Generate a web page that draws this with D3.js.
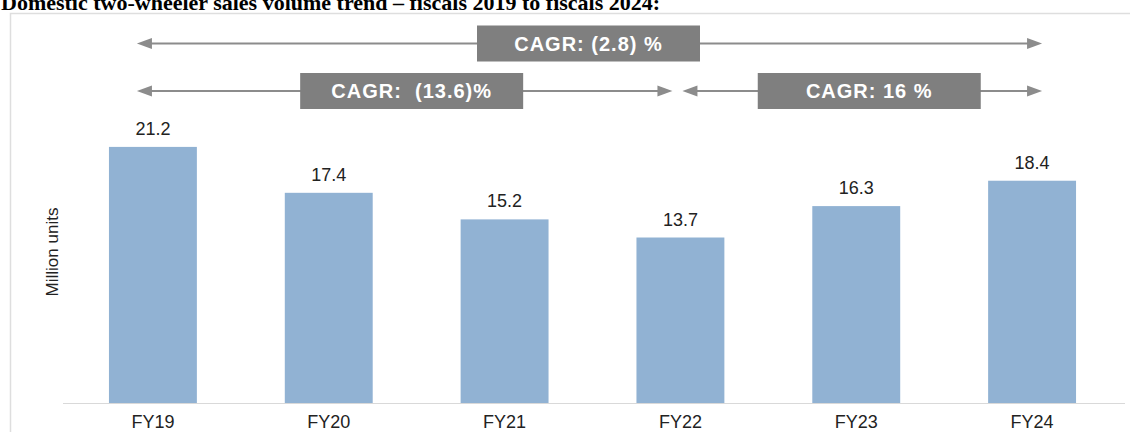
<!DOCTYPE html>
<html>
<head>
<meta charset="utf-8">
<script src="https://cdn.jsdelivr.net/npm/d3@7"></script>
<style>
  body { margin: 0; background: #fff; }
  svg { display: block; }
</style>
</head>
<body>
<div class="box"></div>
<script>
let years = ['FY19', 'FY20', 'FY21', 'FY22', 'FY23', 'FY24']
let sales = [21.2, 17.4, 15.2, 13.7, 16.3, 18.4]

let cagrText = ['CAGR: (2.8) %', 'CAGR:  (13.6)%', 'CAGR: 16 %']
let cagrFrom = ['FY19', 'FY19', 'FY22']
let cagrTo = ['FY24', 'FY22', 'FY24']
let cagrRow = [0, 1, 1]

let title = 'Domestic two-wheeler sales volume trend \u2013 fiscals 2019 to fiscals 2024:'
let yTitle = 'Million units'

let W = 1130
let H = 432
let base = 403
let barColor = '#91b2d3'
let grey = '#8c8c8c'

let svg = d3.select('.box')
  .append('svg')
  .attr('width', W)
  .attr('height', H)

// frame around the chart
svg.append('path')
  .attr('d', `M10.5,${H} V13.5 H${W}`)
  .attr('fill', 'none')
  .attr('stroke', '#dedede')
  .attr('stroke-width', 1.5)

// title is clipped by the top edge in the source image
svg.append('text')
  .attr('x', 1)
  .attr('y', 10)
  .style('font-family', '"Liberation Serif", "Times New Roman", serif')
  .style('font-weight', 'bold')
  .style('font-size', '22px')
  .style('fill', '#000')
  .text(title)

let x = d3.scaleBand()
  .domain(years)
  .range([65, 1120])
  .paddingInner(0.5)
  .paddingOuter(0.25)

let y = d3.scaleLinear()
  .domain([0, 25])
  .range([base, 101])

let xc = (d) => x(d) + x.bandwidth() / 2

// baseline
svg.append('line')
  .attr('x1', 63)
  .attr('x2', 1125)
  .attr('y1', base + 0.5)
  .attr('y2', base + 0.5)
  .attr('stroke', '#d9d9d9')
  .attr('stroke-width', 1)

svg.selectAll('.bar')
  .data(sales)
  .enter()
  .append('rect')
  .attr('class', 'bar')
  .attr('x', (d, i) => x(years[i]))
  .attr('y', (d) => y(d))
  .attr('width', x.bandwidth())
  .attr('height', (d) => base - y(d))
  .attr('fill', barColor)

svg.selectAll('.val')
  .data(sales)
  .enter()
  .append('text')
  .attr('class', 'val')
  .attr('x', (d, i) => xc(years[i]))
  .attr('y', (d) => y(d) - 12)
  .attr('text-anchor', 'middle')
  .style('font-family', 'Arial, "Liberation Sans", sans-serif')
  .style('font-size', '18px')
  .style('fill', '#222')
  .text((d) => d.toFixed(1))

svg.selectAll('.cat')
  .data(years)
  .enter()
  .append('text')
  .attr('class', 'cat')
  .attr('x', (d) => xc(d))
  .attr('y', 428)
  .attr('text-anchor', 'middle')
  .style('font-family', 'Arial, "Liberation Sans", sans-serif')
  .style('font-size', '18px')
  .style('fill', '#222')
  .text((d) => d)

svg.append('text')
  .attr('transform', 'translate(58,252) rotate(-90)')
  .attr('text-anchor', 'middle')
  .style('font-family', 'Arial, "Liberation Sans", sans-serif')
  .style('font-size', '17px')
  .style('fill', '#222')
  .text(yTitle)

// CAGR arrows
let rowY = [43.5, 91]
let boxW = 223
let boxH = 36

let head = (px, py, dir) => {
  // dir -1 points left, 1 points right
  svg.append('path')
    .attr('d', `M${px},${py} L${px - dir * 15},${py - 5.5} L${px - dir * 15},${py + 5.5} Z`)
    .attr('fill', grey)
}

cagrText.forEach((t, i) => {
  let row = cagrRow[i]
  let ry = rowY[row]
  let sharedL = cagrRow.some((r, j) => j != i && r == row && cagrTo[j] == cagrFrom[i])
  let sharedR = cagrRow.some((r, j) => j != i && r == row && cagrFrom[j] == cagrTo[i])
  let x1 = sharedL ? xc(cagrFrom[i]) + 2 : xc(cagrFrom[i]) - 16
  let x2 = sharedR ? xc(cagrTo[i]) - 8 : xc(cagrTo[i]) + 10

  svg.append('line')
    .attr('x1', x1 + 10)
    .attr('x2', x2 - 10)
    .attr('y1', ry)
    .attr('y2', ry)
    .attr('stroke', grey)
    .attr('stroke-width', 2)
  head(x1, ry, -1)
  head(x2, ry, 1)

  let cx = (x1 + x2) / 2 + (row ? 7 : -1)
  svg.append('rect')
    .attr('x', cx - boxW / 2)
    .attr('y', ry - boxH / 2)
    .attr('width', boxW)
    .attr('height', boxH)
    .attr('fill', '#7f7f7f')

  svg.append('text')
    .attr('x', cx)
    .attr('y', ry + 7)
    .attr('text-anchor', 'middle')
    .style('white-space', 'pre')
    .style('font-family', 'Arial, "Liberation Sans", sans-serif')
    .style('font-weight', 'bold')
    .style('font-size', '20px')
    .style('letter-spacing', '1px')
    .style('fill', '#fff')
    .text(t)
})
</script>
</body>
</html>
